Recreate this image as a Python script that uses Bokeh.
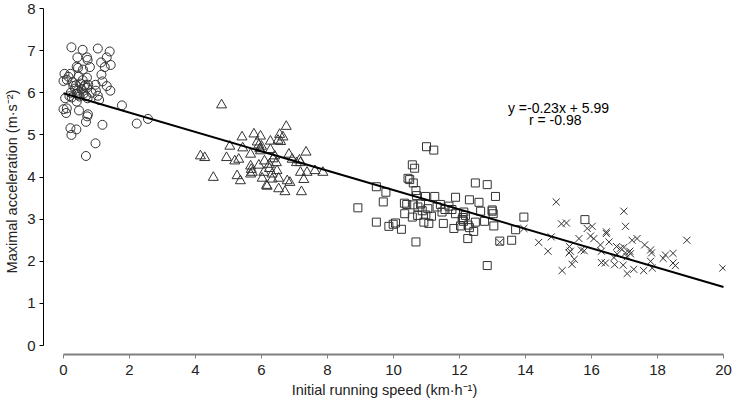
from bokeh.plotting import figure
from bokeh.models import Range1d, Label
from bokeh.embed import file_html
from bokeh.resources import INLINE

# ---- data ----
circle_x = [0.24, 0.58, 1.04, 1.40, 0.42, 0.71, 0.73, 1.31, 1.14, 1.43, 1.25, 0.80, 0.44, 0.40,
            0.59, 0.21, 0.03, 0.46, 0.71, 1.15, 0.00, 0.10, 1.18, 0.30, 0.38, 0.51, 0.66, 0.75,
            0.97, 1.31, 1.42, 0.98, 0.71, 0.43, 0.22, 0.40, 0.61, 0.05, 0.25, 0.49, 0.68, 0.73,
            1.04, 1.08, 0.40, 0.47, 0.00, 0.08, 0.10, 0.74, 0.72, 0.68, 1.77, 1.18, 2.22, 2.56,
            0.21, 0.39, 0.24, 0.97, 0.68, 0.55, 0.35, 0.62, 0.45, 0.18, 0.28, 0.15, 0.58, 0.85]
circle_y = [7.08, 7.02, 7.05, 6.98, 6.84, 6.84, 6.78, 6.84, 6.72, 6.66, 6.61, 6.61, 6.59, 6.62,
            6.55, 6.45, 6.45, 6.39, 6.36, 6.43, 6.28, 6.31, 6.27, 6.16, 6.18, 6.22, 6.19, 6.19,
            6.19, 6.16, 6.05, 6.05, 6.12, 6.05, 6.00, 5.98, 5.98, 5.87, 5.89, 5.91, 5.92, 5.87,
            5.93, 5.83, 5.79, 5.58, 5.61, 5.52, 5.63, 5.49, 5.44, 5.31, 5.70, 5.24, 5.27, 5.38,
            5.16, 5.13, 5.00, 4.80, 4.50, 6.08, 6.10, 6.15, 5.95, 5.92, 6.25, 6.38, 6.30, 6.00]

tri_x = [4.79, 6.75, 5.41, 5.77, 5.97, 6.55, 6.65, 6.50, 6.58, 6.27, 5.87, 5.92, 6.00, 5.04,
         5.43, 5.67, 5.97, 5.95, 6.27, 6.40, 6.83, 7.35, 7.15, 7.06, 7.18, 6.93, 4.15, 4.28,
         4.94, 5.19, 5.31, 5.67, 5.92, 6.24, 6.47, 6.32, 6.07, 5.72, 5.67, 7.18, 7.38, 7.62,
         7.86, 7.28, 5.26, 5.36, 4.54, 6.02, 6.32, 6.52, 6.78, 6.86, 6.15, 6.17, 6.52, 6.71,
         7.21, 5.69, 6.09, 6.24, 6.45, 6.35]
tri_y = [5.71, 5.20, 4.95, 5.02, 4.97, 5.01, 4.95, 4.87, 4.84, 4.85, 4.83, 4.76, 4.73, 4.73,
         4.69, 4.54, 4.62, 4.67, 4.65, 4.50, 4.54, 4.59, 4.40, 4.34, 4.34, 4.42, 4.50, 4.46,
         4.46, 4.38, 4.42, 4.26, 4.28, 4.20, 4.15, 4.07, 4.11, 4.11, 4.07, 4.11, 4.11, 4.15,
         4.11, 3.94, 4.03, 3.91, 3.99, 3.97, 3.95, 3.97, 3.91, 3.87, 3.80, 3.78, 3.72, 3.65,
         3.65, 4.18, 4.38, 4.30, 4.34, 4.43]

sq_x = [11.00, 11.22, 10.57, 10.64, 10.44, 10.49, 10.60, 9.48, 9.77, 12.48, 12.84, 13.09,
        10.68, 10.70, 10.97, 11.25, 11.88, 12.30, 12.59, 8.92, 9.69, 10.33, 10.40, 10.60,
        10.82, 10.74, 11.32, 11.42, 11.68, 11.56, 11.47, 11.77, 11.04, 10.87, 10.34, 10.57,
        10.73, 10.98, 11.88, 12.13, 12.18, 12.64, 12.99, 13.02, 12.99, 11.15, 10.92, 11.07,
        11.51, 12.08, 12.10, 12.12, 12.48, 12.76, 9.48, 9.86, 9.99, 10.06, 10.24, 12.03,
        12.26, 12.30, 11.83, 12.43, 13.04, 13.70, 12.25, 13.22, 13.58, 10.68, 12.84, 15.80,
        13.95]
sq_y = [4.72, 4.64, 4.29, 4.21, 3.97, 3.94, 3.86, 3.77, 3.64, 3.86, 3.82, 3.54,
        3.68, 3.56, 3.54, 3.54, 3.52, 3.46, 3.40, 3.27, 3.41, 3.38, 3.35, 3.34,
        3.36, 3.29, 3.29, 3.35, 3.31, 3.23, 3.17, 3.23, 3.25, 3.20, 3.13, 3.05,
        3.09, 3.10, 3.13, 3.17, 3.09, 3.19, 3.19, 3.13, 3.22, 3.07, 2.93, 2.90,
        2.90, 2.99, 3.04, 2.95, 2.93, 2.95, 2.93, 2.83, 2.88, 2.91, 2.76, 2.84,
        2.86, 2.80, 2.78, 2.71, 2.84, 2.75, 2.54, 2.48, 2.50, 2.46, 1.90, 2.99,
        3.05]

x_x = [14.93, 13.22, 13.95, 14.40, 14.68, 14.78, 15.09, 15.24, 15.11, 15.33, 15.36, 15.41,
       15.48, 15.62, 15.69, 15.78, 15.87, 16.02, 15.97, 16.07, 16.98, 17.03, 16.45, 16.45,
       16.27, 16.30, 16.30, 16.42, 16.70, 16.96, 17.08, 17.28, 17.58, 17.84, 16.53, 16.76,
       16.88, 16.98, 17.03, 17.16, 17.08, 17.18, 16.68, 16.78, 17.23, 17.38, 17.61, 17.79,
       17.82, 17.79, 18.17, 18.24, 18.47, 18.47, 18.54, 18.89, 19.98, 15.32]
x_y = [3.41, 2.45, 2.78, 2.45, 2.24, 2.58, 2.89, 2.91, 1.78, 2.35, 2.24, 1.93,
       2.05, 2.54, 2.27, 2.25, 2.78, 2.83, 2.60, 2.54, 3.19, 2.83, 2.70, 2.66,
       2.39, 2.24, 1.97, 1.96, 1.92, 1.91, 1.71, 1.81, 1.78, 1.84, 2.46, 2.35,
       2.31, 2.33, 2.20, 2.24, 2.11, 2.18, 2.09, 2.17, 2.50, 2.54, 2.39, 2.27,
       2.20, 2.00, 2.07, 2.15, 2.19, 1.96, 1.90, 2.50, 1.84, 2.20]

fit_slope = -0.23
fit_intercept = 5.99
fit_x = [0, 20]
fit_y = [fit_intercept + fit_slope * v for v in fit_x]

x_ticks = [0, 2, 4, 6, 8, 10, 12, 14, 16, 18, 20]
y_ticks = [0, 1, 2, 3, 4, 5, 6, 7, 8]

FONT = "Liberation Sans"
MK = "#333333"

p = figure(width=733, height=408, output_backend="svg", toolbar_location=None,
           x_range=Range1d(-0.606, 20.06), y_range=Range1d(-0.211, 8.0),
           min_border_left=43, min_border_right=8, min_border_top=8, min_border_bottom=54)
p.outline_line_color = None
p.grid.visible = False
p.background_fill_color = "white"

p.scatter(circle_x, circle_y, marker="circle", size=9, fill_color=None, line_color=MK, line_width=1)
p.scatter(tri_x, tri_y, marker="triangle", size=10, fill_color=None, line_color=MK, line_width=1)
p.scatter(sq_x, sq_y, marker="square", size=8, fill_color=None, line_color=MK, line_width=1)
p.scatter(x_x, x_y, marker="x", size=10, line_color=MK, line_width=1)
p.line(fit_x, fit_y, line_color="black", line_width=2)

p.add_layout(Label(x=15.0, y=5.45, text="y =-0.23x + 5.99", text_align="center",
                   text_font=FONT, text_font_size="14px", text_color="black"))
p.add_layout(Label(x=14.9, y=5.17, text="r = -0.98", text_align="center",
                   text_font=FONT, text_font_size="14px", text_color="black"))

xa = p.xaxis[0]
xa.bounds = (0, 20)
xa.ticker = x_ticks
xa.axis_line_color = "#808080"
xa.axis_line_width = 2
xa.major_tick_line_color = "#808080"
xa.major_tick_in = 0
xa.major_tick_out = 4
xa.minor_tick_line_color = None
xa.major_label_standoff = 6
xa.major_label_text_font = FONT
xa.major_label_text_font_size = "15px"
xa.major_label_text_color = "#222222"
xa.axis_label = "Initial running speed (km·h⁻¹)"
xa.axis_label_text_font = FONT
xa.axis_label_text_font_size = "14.5px"
xa.axis_label_text_font_style = "normal"
xa.axis_label_text_color = "#222222"
xa.axis_label_standoff = 4

ya = p.yaxis[0]
ya.bounds = (0, 8)
ya.ticker = y_ticks
ya.axis_line_color = "black"
ya.axis_line_width = 1
ya.major_tick_line_color = "black"
ya.major_tick_in = 0
ya.major_tick_out = 4
ya.minor_tick_line_color = None
ya.major_label_standoff = 4
ya.major_label_text_font = FONT
ya.major_label_text_font_size = "15px"
ya.major_label_text_color = "#222222"
ya.axis_label = "Maximal acceleration (m·s⁻²)"
ya.axis_label_text_font = FONT
ya.axis_label_text_font_size = "14.5px"
ya.axis_label_text_font_style = "normal"
ya.axis_label_text_color = "#222222"
ya.axis_label_standoff = 4

open("out.html", "w").write(file_html(p, INLINE))
